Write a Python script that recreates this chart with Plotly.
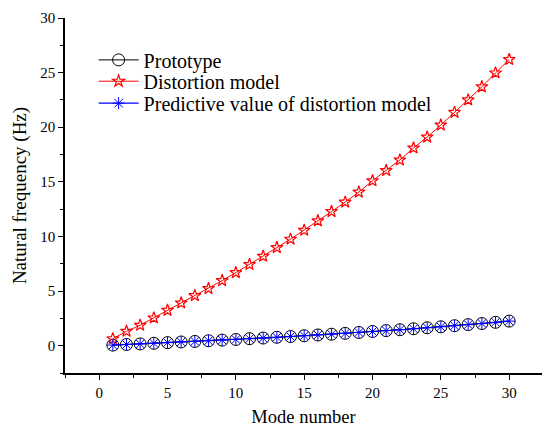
import plotly.graph_objects as go

# Mode numbers 1..30
modes = list(range(1, 31))

# Natural frequencies (Hz)
prototype = [0.055, 0.11, 0.16, 0.22, 0.28, 0.34, 0.39, 0.45, 0.51, 0.57,
             0.64, 0.70, 0.77, 0.84, 0.91, 0.98, 1.05, 1.13, 1.21, 1.30,
             1.38, 1.46, 1.55, 1.64, 1.73, 1.83, 1.93, 2.03, 2.14, 2.25]
distortion = [0.64, 1.32, 1.87, 2.54, 3.24, 3.91, 4.58, 5.23, 5.96, 6.69,
              7.43, 8.19, 8.98, 9.75, 10.57, 11.43, 12.28, 13.14, 14.06, 15.10,
              16.04, 17.00, 18.10, 19.10, 20.20, 21.36, 22.50, 23.70, 24.97, 26.20]
predictive = [0.055, 0.11, 0.16, 0.22, 0.28, 0.34, 0.39, 0.45, 0.51, 0.57,
              0.64, 0.70, 0.77, 0.84, 0.91, 0.98, 1.05, 1.13, 1.21, 1.30,
              1.38, 1.46, 1.55, 1.64, 1.73, 1.83, 1.93, 2.03, 2.14, 2.25]

FONT = "Liberation Serif"

fig = go.Figure()
fig.add_trace(go.Scatter(
    x=modes, y=prototype, name="Prototype", mode="lines+markers",
    line=dict(color="black", width=1),
    marker=dict(symbol="circle-open", size=12, color="black", line=dict(width=1)),
    legend="legend",
))
fig.add_trace(go.Scatter(
    x=modes, y=distortion, name="Distortion model", mode="lines+markers",
    line=dict(color="red", width=1),
    marker=dict(symbol="star-open", size=9, color="red", line=dict(width=1.2)),
    legend="legend2",
))
fig.add_trace(go.Scatter(
    x=modes, y=predictive, name="Predictive value of distortion model",
    mode="lines+markers",
    line=dict(color="blue", width=1.2),
    marker=dict(symbol="asterisk-open", size=10, color="blue", line=dict(width=1, color="blue")),
    legend="legend3",
))

axis_common = dict(
    showgrid=False, zeroline=False, showline=True, linecolor="black", linewidth=1.5,
    ticks="outside", ticklen=5, tickwidth=1.2, tickcolor="black",
    tickfont=dict(family=FONT, size=15, color="black"),
    minor=dict(ticks="outside", ticklen=3, tickwidth=1.2, tickcolor="black", dtick=2.5),
)

fig.update_xaxes(
    range=[-2.5, 32.4], tick0=0, dtick=5, tickmode="linear",
    title=dict(text="Mode number", font=dict(family=FONT, size=18.5, color="black"), standoff=10),
    **axis_common,
)
fig.update_yaxes(
    range=[-2.5, 30], tick0=0, dtick=5, tickmode="linear",
    title=dict(text="Natural frequency (Hz)", font=dict(family=FONT, size=19, color="black"), standoff=9),
    **axis_common,
)

# one legend box per row so the rows sit close together
legend_style = dict(
    x=0.06, xanchor="left", yanchor="middle",
    bgcolor="rgba(0,0,0,0)", borderwidth=0,
    font=dict(family=FONT, size=20, color="black"),
    itemwidth=40,
)

fig.update_layout(
    width=542, height=432,
    margin=dict(l=65, r=0, t=18, b=59),
    paper_bgcolor="white", plot_bgcolor="white",
    font=dict(family=FONT, size=16, color="black"),
    showlegend=True,
    legend=dict(y=0.882, **legend_style),
    legend2=dict(y=0.822, **legend_style),
    legend3=dict(y=0.760, **legend_style),
)

fig.write_html("out.html")
